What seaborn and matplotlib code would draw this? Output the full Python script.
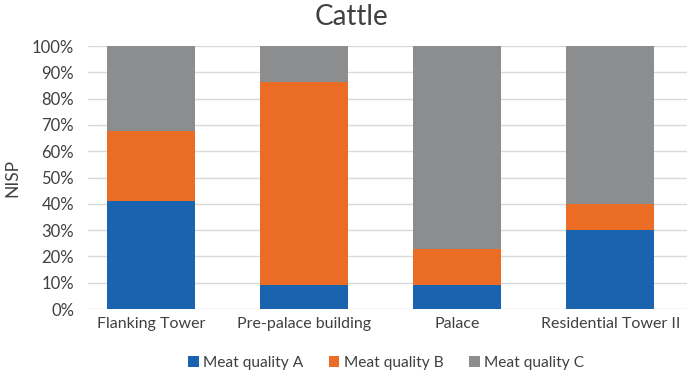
import numpy as np
import pandas as pd
import matplotlib
matplotlib.use("Agg")
import matplotlib.pyplot as plt
import seaborn as sns
from matplotlib.patches import Patch

sites = ["Flanking Tower", "Pre-palace building", "Palace", "Residential Tower II"]
quality_a = [41, 9, 9, 30]
quality_b = [26.5, 77.5, 14, 10]
quality_c = [32.5, 13.5, 77, 60]
series_names = ["Meat quality A", "Meat quality B", "Meat quality C"]
colors = ["#1a63ae", "#eb6c24", "#8b8d8f"]

sns.set_theme(style="white")
plt.rcParams["font.family"] = ["Lato", "DejaVu Sans"]

df = pd.DataFrame({"site": sites, "A": quality_a, "B": quality_b, "C": quality_c})
# cumulative heights, drawn back to front
df["AB"] = df["A"] + df["B"]
df["ABC"] = df["AB"] + df["C"]

fig, ax = plt.subplots(figsize=(6.87, 3.71), dpi=100)
fig.subplots_adjust(left=0.128, right=1.0, top=0.876, bottom=0.167)

for col, c in zip(["ABC", "AB", "A"], colors[::-1]):
    sns.barplot(data=df, x="site", y=col, color=c, width=0.575,
                saturation=1, linewidth=0, ax=ax)

ax.set_ylim(0, 100)
ax.set_xlim(-0.41, 3.5)
ax.set_yticks(np.arange(0, 101, 10))
ax.set_yticklabels([f"{v}%" for v in range(0, 101, 10)], fontsize=12, color="#404040")
ax.tick_params(axis="x", labelsize=11.5, labelcolor="#404040", length=0, pad=6)
ax.tick_params(axis="y", length=0, pad=10)
ax.yaxis.grid(True, color="#d9d9d9", linewidth=1)
ax.set_axisbelow(True)
for s in ax.spines.values():
    s.set_visible(False)
ax.set_xlabel("")
ax.set_ylabel("NISP", fontsize=12.5, color="#404040", labelpad=8)
fig.text(0.512, 0.955, "Cattle", ha="center", va="center", fontsize=20, color="#404040")

handles = [Patch(facecolor=c, edgecolor="none", label=n) for c, n in zip(colors, series_names)]
fig.legend(handles=handles, loc="center", bbox_to_anchor=(0.562, 0.022), ncol=3,
           frameon=False, fontsize=11.2, handlelength=0.7, handleheight=0.7,
           handletextpad=0.3, columnspacing=1.6, labelcolor="#404040",
           borderpad=0)

fig.savefig("out.png", dpi=100)
